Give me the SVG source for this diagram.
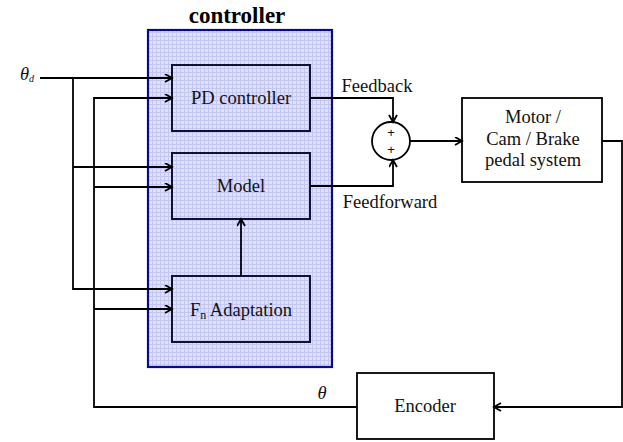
<svg xmlns="http://www.w3.org/2000/svg" width="623" height="442" viewBox="0 0 623 442">
<defs>
<pattern id="grid" width="4" height="4" patternUnits="userSpaceOnUse">
<rect width="4" height="4" fill="#dfe0fa"/>
<path d="M0,0.5 H4 M0.5,0 V4" stroke="#c3c6f0" stroke-width="1"/>
</pattern>
<marker id="arr" markerWidth="10" markerHeight="10" refX="8" refY="4.5" orient="auto" markerUnits="userSpaceOnUse">
<path d="M1,0.5 L8,4.5 L1,8.5" fill="none" stroke="#000" stroke-width="1.8"/>
</marker>
<style>
.t{font-family:"Liberation Serif","Times New Roman",serif;font-size:18.5px;fill:#111;text-anchor:middle}
.box{fill:none;stroke:#111133;stroke-width:2}
.wbox{fill:#fff;stroke:#000;stroke-width:1.8}
.ln{fill:none;stroke:#000;stroke-width:1.8}
</style>
</defs>
<rect width="623" height="442" fill="#fff"/>
<g id="controller">
<rect x="148" y="30" width="184" height="337" fill="url(#grid)" stroke="#0a0a8c" stroke-width="2.2"/>
<text x="237" y="23" class="t" style="font-weight:bold;font-size:23px;fill:#000">controller</text>
</g>
<g id="pd">
<rect x="172" y="65" width="138" height="66" class="box"/>
<text x="241" y="104" class="t">PD controller</text>
</g>
<g id="model">
<rect x="172" y="153" width="138" height="66" class="box"/>
<text x="241" y="192" class="t">Model</text>
</g>
<g id="fn">
<rect x="172" y="276" width="138" height="66" class="box"/>
<text x="241" y="316" class="t">F<tspan font-size="12" dy="3">n</tspan><tspan dy="-3"> Adaptation</tspan></text>
</g>
<g id="sum">
<circle cx="391" cy="141" r="19" fill="#fff" stroke="#000" stroke-width="1.8"/>
<text x="391" y="137" class="t" style="font-family:'Liberation Sans',Arial,sans-serif;font-size:13px">+</text>
<text x="391" y="154" class="t" style="font-family:'Liberation Sans',Arial,sans-serif;font-size:13px">+</text>
</g>
<g id="plant">
<rect x="462" y="98" width="140" height="84" class="wbox"/>
<text x="533" y="123" class="t">Motor /</text>
<text x="533" y="145" class="t">Cam / Brake</text>
<text x="533" y="166" class="t">pedal system</text>
</g>
<g id="encoder">
<rect x="357" y="373" width="137" height="66" class="wbox"/>
<text x="425" y="412" class="t">Encoder</text>
</g>
<g id="labels">
<text x="27" y="80" class="t" style="font-style:italic">θ<tspan font-size="10" dy="2">d</tspan></text>
<text x="322" y="399" class="t" style="font-style:italic">θ</text>
<text x="377" y="92" class="t">Feedback</text>
<text x="390" y="208" class="t">Feedforward</text>
</g>
<g id="connectors">
<path class="ln" d="M40,78 H172" marker-end="url(#arr)"/>
<path class="ln" d="M73,78 V289 H172" marker-end="url(#arr)"/>
<path class="ln" d="M73,167 H172" marker-end="url(#arr)"/>
<path class="ln" d="M357,407 H94 V98 H172" marker-end="url(#arr)"/>
<path class="ln" d="M94,187 H172" marker-end="url(#arr)"/>
<path class="ln" d="M94,309 H172" marker-end="url(#arr)"/>
<path class="ln" d="M241,276 V219" marker-end="url(#arr)"/>
<path class="ln" d="M310,98 H393 V122" marker-end="url(#arr)"/>
<path class="ln" d="M310,186 H393 V160" marker-end="url(#arr)"/>
<path class="ln" d="M410,141 H462" marker-end="url(#arr)"/>
<path class="ln" d="M602,141 H622 V407 H494" marker-end="url(#arr)"/>
</g>
</svg>
